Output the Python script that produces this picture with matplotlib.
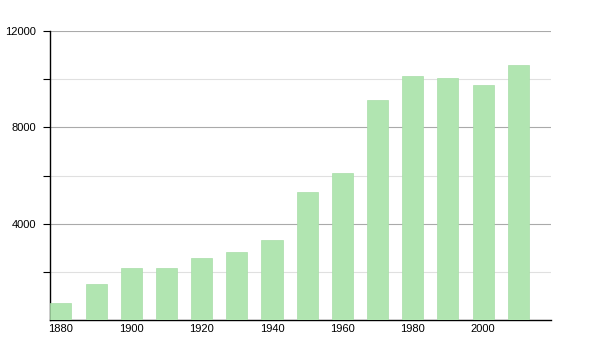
import matplotlib.pyplot as plt
import numpy as np

plt.rcParams['font.family'] = ['Liberation Sans', 'DejaVu Sans']

years = [1880, 1890, 1900, 1910, 1920, 1930, 1940, 1950, 1960, 1970, 1980, 1990, 2000, 2010]
population = [700, 1500, 2160, 2160, 2580, 2820, 3320, 5310, 6100, 9130, 10130, 10040, 9760, 10590]

fig = plt.figure(figsize=(6, 3.5), dpi=100)
ax = fig.add_axes([0.0833, 0.0857, 0.835, 0.8257])

ax.bar(years, population, width=6, color='#b1e5b1', edgecolor='#a8dea8', linewidth=0.5, zorder=3)

ax.set_xlim(1876.9, 2019.3)
ax.set_ylim(0, 12000)

ax.set_yticks([4000, 8000, 12000])
ax.set_yticks([2000, 6000, 10000], minor=True)
ax.set_xticks(np.arange(1880, 2001, 20))

ax.grid(axis='y', which='major', color='#aaaaaa', linewidth=0.8, zorder=0)
ax.grid(axis='y', which='minor', color='#e0e0e0', linewidth=0.8, zorder=0)

ax.tick_params(axis='y', which='both', length=5, width=0.8, labelsize=8, pad=5)
ax.tick_params(axis='x', length=0, labelsize=8, pad=3)

for s in ['top', 'right']:
    ax.spines[s].set_visible(False)
ax.spines['left'].set_linewidth(1)
ax.spines['bottom'].set_linewidth(1)

fig.savefig('out.png', dpi=100)
